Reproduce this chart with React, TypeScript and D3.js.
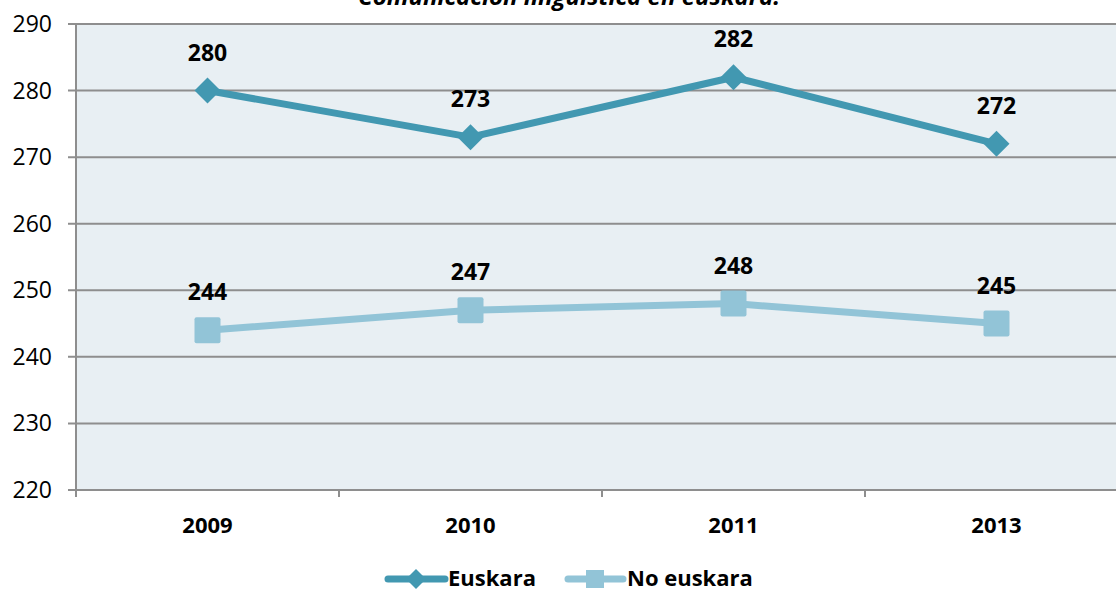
import React from "react";
import * as d3 from "d3";

const years = ["2009", "2010", "2011", "2013"];
const euskara = [280, 273, 282, 272];
const noEuskara = [244, 247, 248, 245];
const yTicks = [220, 230, 240, 250, 260, 270, 280, 290];
const title = "Comunicación lingüística en euskara.";
const seriesNames = ["Euskara", "No euskara"];

const W = 1116;
const H = 590;
const FONT = "'Open Sans', Lato, sans-serif";
const C1 = "#4298B1";
const C2 = "#92C4D7";
const GRID = "#8E8E8E";

export default function App() {
  const left = 76;
  const band = 263;
  const x = d3.scaleBand<string>().domain(years).range([left, left + band * years.length]);
  const y = d3.scaleLinear().domain([220, 290]).range([490, 24]);
  const cx = (d: string) => (x(d) as number) + x.bandwidth() / 2;
  const line = d3.line<number>().x((_, i) => cx(years[i])).y((v) => y(v));
  const plotRight = left + band * years.length;

  const diamond = (px: number, py: number, r: number) =>
    `M${px},${py - r}L${px + r},${py}L${px},${py + r}L${px - r},${py}Z`;

  return (
    <svg width={W} height={H} style={{ position: "absolute", left: 0, top: 0, background: "#fff" }}>
      <text x={569} y={5} textAnchor="middle" fontFamily={FONT} fontWeight="bold" fontStyle="italic" fontSize={24} fill="#000">
        {title}
      </text>
      <rect x={left} y={y(290)} width={plotRight - left} height={y(220) - y(290)} fill="#E8EFF3" />
      {yTicks.map((t) => (
        <g key={t}>
          <line x1={left - 8} x2={plotRight} y1={y(t)} y2={y(t)} stroke={GRID} strokeWidth={2} />
          <text x={52} y={y(t) + 8} textAnchor="end" fontFamily={FONT} fontSize={23} fill="#000">
            {t}
          </text>
        </g>
      ))}
      <line x1={left} x2={left} y1={y(290)} y2={y(220) + 7} stroke={GRID} strokeWidth={2} />
      {years.slice(1).map((yr) => (
        <line key={yr} x1={x(yr) as number} x2={x(yr) as number} y1={y(220)} y2={y(220) + 7} stroke={GRID} strokeWidth={2} />
      ))}
      {years.map((yr) => (
        <text key={yr} x={cx(yr)} y={533} textAnchor="middle" fontFamily={FONT} fontWeight="bold" fontSize={22} fill="#000">
          {yr}
        </text>
      ))}
      <path d={line(noEuskara) || ""} fill="none" stroke={C2} strokeWidth={7} strokeLinejoin="round" />
      {noEuskara.map((v, i) => (
        <rect key={i} x={cx(years[i]) - 13} y={y(v) - 13} width={26} height={26} rx={2} fill={C2} />
      ))}
      <path d={line(euskara) || ""} fill="none" stroke={C1} strokeWidth={7} strokeLinejoin="round" />
      {euskara.map((v, i) => (
        <path key={i} d={diamond(cx(years[i]), y(v), 13)} fill={C1} />
      ))}
      {euskara.map((v, i) => (
        <text key={"l1" + i} x={cx(years[i])} y={y(v) - 30} textAnchor="middle" fontFamily={FONT} fontWeight="bold" fontSize={23} fill="#000">
          {v}
        </text>
      ))}
      {noEuskara.map((v, i) => (
        <text key={"l2" + i} x={cx(years[i])} y={y(v) - 30} textAnchor="middle" fontFamily={FONT} fontWeight="bold" fontSize={23} fill="#000">
          {v}
        </text>
      ))}
      {/* legend */}
      <g>
        <line x1={388} x2={445} y1={579} y2={579} stroke={C1} strokeWidth={7} strokeLinecap="round" />
        <path d={diamond(416, 579, 10)} fill={C1} />
        <text x={448} y={586} fontFamily={FONT} fontWeight="bold" fontSize={22} fill="#000">
          {seriesNames[0]}
        </text>
        <line x1={568} x2={623} y1={579} y2={579} stroke={C2} strokeWidth={7} strokeLinecap="round" />
        <rect x={586} y={570} width={18} height={18} fill={C2} />
        <text x={627} y={586} fontFamily={FONT} fontWeight="bold" fontSize={22} fill="#000">
          {seriesNames[1]}
        </text>
      </g>
    </svg>
  );
}
